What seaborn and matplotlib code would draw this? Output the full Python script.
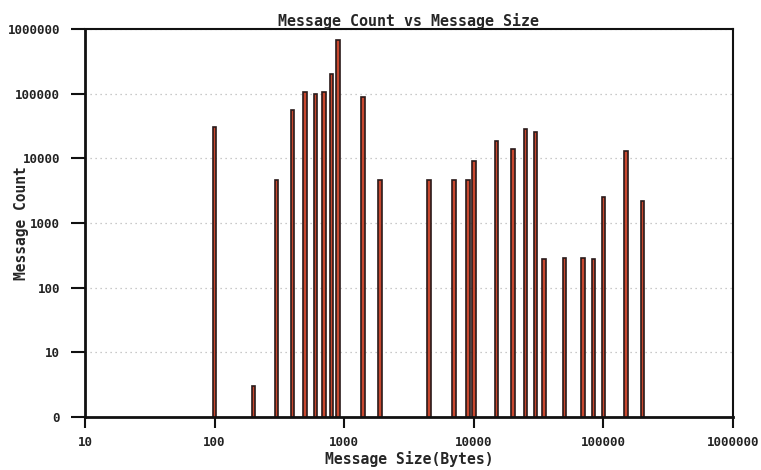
import matplotlib
matplotlib.use("Agg")
import matplotlib.pyplot as plt
import seaborn as sns
import pandas as pd

sizes = [100, 200, 300, 400, 500, 600, 700, 800, 900, 1400, 1900,
         4500, 7000, 9000, 10000, 15000, 20000, 25000, 30000, 35000,
         50000, 70000, 84000, 100000, 150000, 200000]
counts = [30000, 3, 4600, 55000, 105000, 100000, 107000, 200000, 670000, 88000, 4600,
          4600, 4600, 4600, 9000, 18500, 13800, 28000, 25400, 274,
          287, 287, 274, 2500, 13000, 2180]
y_ticks = [1, 10, 100, 1000, 10000, 100000, 1000000]
y_labels = ["0", "10", "100", "1000", "10000", "100000", "1000000"]
x_ticks = [10, 100, 1000, 10000, 100000, 1000000]
x_labels = ["10", "100", "1000", "10000", "100000", "1000000"]

df = pd.DataFrame({"size": sizes, "count": counts})

sns.set_style("white")
plt.rcParams["font.family"] = ["DejaVu Sans Mono"]

fig = plt.figure(figsize=(7.61, 4.70), dpi=100)
ax = fig.add_axes([85 / 761, 1 - 417 / 470, (733 - 85) / 761, (417 - 29) / 470])

sns.barplot(data=df, x="size", y="count", native_scale=True, log_scale=(True, False),
            color="#c8482f", saturation=1, width=0.62,
            edgecolor="#2a1a1a", linewidth=1.2, ax=ax, errorbar=None)
ax.set_yscale("log")

ax.set_xlim(10, 1000000)
ax.set_ylim(1, 1000000)
ax.set_yticks(y_ticks)
ax.set_yticklabels(y_labels)
ax.set_xticks(x_ticks)
ax.set_xticklabels(x_labels)
ax.minorticks_off()
ax.tick_params(axis="y", direction="out", length=10, width=1.5, color="#111111",
               labelsize=8.9, pad=8, left=True)
ax.tick_params(axis="x", direction="out", length=8, width=1.5, color="#111111",
               labelsize=8.9, pad=6, bottom=True)
for lab in ax.get_xticklabels() + ax.get_yticklabels():
    lab.set_fontweight("bold")
    lab.set_color("#222222")

ax.yaxis.grid(True, linestyle=(0, (1, 3)), color="#b8b8b8", linewidth=0.9)
ax.xaxis.grid(False)
ax.set_axisbelow(True)

for side in ["left", "bottom"]:
    ax.spines[side].set_linewidth(2.0)
    ax.spines[side].set_color("#111111")
for side in ["top", "right"]:
    ax.spines[side].set_linewidth(1.5)
    ax.spines[side].set_color("#111111")

ax.set_title("Message Count vs Message Size", fontsize=10.8, fontweight="bold", pad=2)
ax.set_xlabel("Message Size(Bytes)", fontsize=10.6, fontweight="bold", labelpad=1)
ax.set_ylabel("Message Count", fontsize=10.5, fontweight="bold", labelpad=0)
ax.yaxis.set_label_coords(-0.086, 0.5)

fig.savefig("out.png", dpi=100, facecolor="white")
